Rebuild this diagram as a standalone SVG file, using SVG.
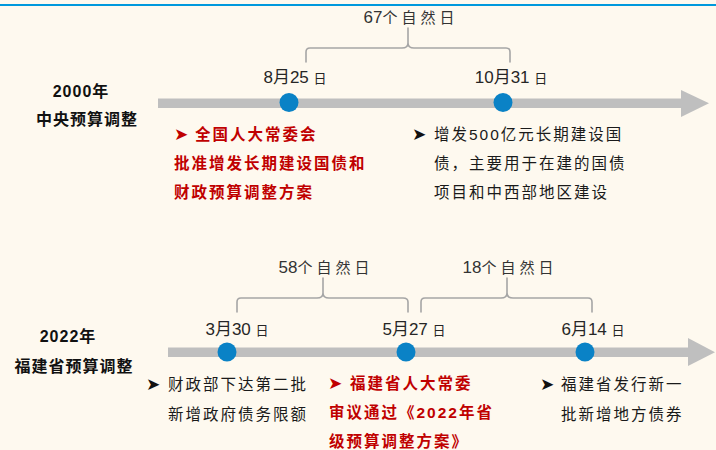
<svg xmlns="http://www.w3.org/2000/svg" width="716" height="450" viewBox="0 0 716 450">
<style>
.bg{fill:#FEF9EF}
.bar{fill:#BFBFBF}
.dot{fill:#0A82C6}
.brace{fill:none;stroke:#A6A6A6;stroke-width:1.6;stroke-linecap:round;stroke-linejoin:round}
.date{font-family:"Liberation Sans","Noto Sans CJK SC",sans-serif;font-size:17px;fill:#262626;text-anchor:middle}
.day{font-family:"Noto Sans CJK SC",sans-serif;font-size:13px;fill:#262626}
.gap{font-family:"Liberation Sans","Noto Sans CJK SC",sans-serif;font-size:17px;fill:#333;text-anchor:middle}
.gapc{font-family:"Noto Sans CJK SC",sans-serif;font-size:15px;letter-spacing:4px}
.lab{font-family:"Liberation Sans","Noto Sans CJK SC",sans-serif;font-size:16px;font-weight:bold;fill:#111;text-anchor:middle;letter-spacing:1px}
.body{font-family:"Liberation Sans","Noto Sans CJK SC",sans-serif;font-size:15.5px;fill:#1a1a1a;letter-spacing:2px}
.red{font-family:"Liberation Sans","Noto Sans CJK SC",sans-serif;font-size:15.5px;fill:#C00000;font-weight:bold;letter-spacing:2px}
.bul{font-family:"DejaVu Sans",sans-serif;font-size:17px}
</style>
<rect class="bg" x="0" y="0" width="716" height="450"/>
<rect x="0" y="4" width="716" height="2" fill="#0099DD"/>

<g id="labels">
<text class="lab" x="81" y="97">2000年</text>
<text class="lab" x="87" y="125">中央预算调整</text>
<text class="lab" x="68" y="342">2022年</text>
<text class="lab" x="74" y="372">福建省预算调整</text>
</g>

<g id="connectors">
<rect class="bar" x="158" y="98.5" width="524" height="9.5"/>
<polygon class="bar" points="681,90 709,103.2 681,117"/>
<rect class="bar" x="168" y="347.5" width="521" height="9.5"/>
<polygon class="bar" points="688,338 715,352.3 688,366"/>
<path class="brace" d="M306,62 V52 Q306,48 310,48 H402 Q408,48 408,43 V28 M408,43 Q408,48 414,48 H506 Q510,48 510,52 V62"/>
<path class="brace" d="M237,312 V302 Q237,298 241,298 H317 Q323,298 323,293 V278 M323,293 Q323,298 329,298 H403 Q408,298 408,302 V312"/>
<path class="brace" d="M421,312 V302 Q421,298 425,298 H501 Q507,298 507,293 V278 M507,293 Q507,298 513,298 H588 Q592,298 592,302 V312"/>
</g>

<g id="gap1"><text class="gap" x="411" y="23">67<tspan class="gapc">个自然日</tspan></text></g>
<g id="gap2"><text class="gap" x="326" y="273">58<tspan class="gapc">个自然日</tspan></text></g>
<g id="gap3"><text class="gap" x="510" y="273">18<tspan class="gapc">个自然日</tspan></text></g>

<g id="n-0825">
<circle class="dot" cx="289" cy="102.5" r="9.5"/>
<text class="date" x="295" y="83">8月25 <tspan class="day">日</tspan></text>
</g>
<g id="n-1031">
<circle class="dot" cx="503" cy="102.5" r="9.5"/>
<text class="date" x="511" y="83">10月31 <tspan class="day">日</tspan></text>
</g>
<g id="n-0330">
<circle class="dot" cx="227" cy="352" r="9.5"/>
<text class="date" x="237" y="335">3月30 <tspan class="day">日</tspan></text>
</g>
<g id="n-0527">
<circle class="dot" cx="406" cy="352" r="9.5"/>
<text class="date" x="414" y="335">5月27 <tspan class="day">日</tspan></text>
</g>
<g id="n-0614">
<circle class="dot" cx="585" cy="352" r="9.5"/>
<text class="date" x="593" y="335">6月14 <tspan class="day">日</tspan></text>
</g>

<g id="t1">
<text class="red" x="174" y="140"><tspan class="bul">➤</tspan></text>
<text class="red" x="195" y="140">全国人大常委会</text>
<text class="red" x="174" y="169">批准增发长期建设国债和</text>
<text class="red" x="174" y="198">财政预算调整方案</text>
</g>
<g id="t2">
<text class="body" x="412" y="140"><tspan class="bul" fill="#111">➤</tspan></text>
<text class="body" x="434" y="140">增发500亿元长期建设国</text>
<text class="body" x="434" y="169">债，主要用于在建的国债</text>
<text class="body" x="434" y="198">项目和中西部地区建设</text>
</g>
<g id="t3">
<text class="body" x="146" y="390"><tspan class="bul" fill="#111">➤</tspan></text>
<text class="body" x="168" y="390">财政部下达第二批</text>
<text class="body" x="168" y="420">新增政府债务限额</text>
</g>
<g id="t4">
<text class="red" x="328" y="389"><tspan class="bul">➤</tspan></text>
<text class="red" x="350" y="389">福建省人大常委</text>
<text class="red" x="329" y="418">审议通过《2022年省</text>
<text class="red" x="329" y="447">级预算调整方案》</text>
</g>
<g id="t5">
<text class="body" x="540" y="390"><tspan class="bul" fill="#111">➤</tspan></text>
<text class="body" x="561" y="390">福建省发行新一</text>
<text class="body" x="561" y="420">批新增地方债券</text>
</g>
</svg>
